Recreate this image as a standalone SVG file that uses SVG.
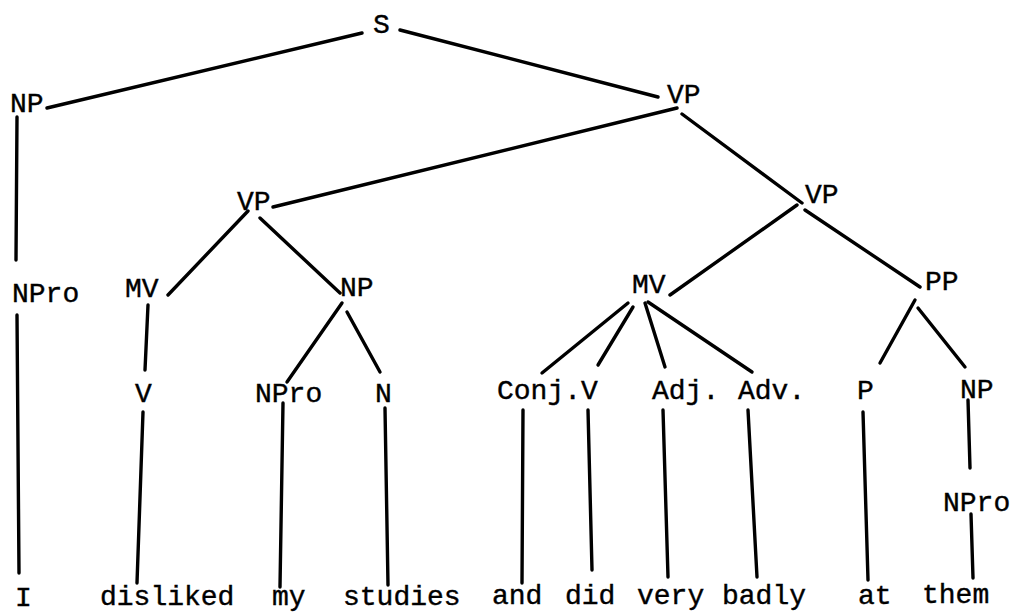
<svg xmlns="http://www.w3.org/2000/svg" width="1013" height="613" viewBox="0 0 1013 613">
<style>
text{font-family:"Liberation Mono","DejaVu Sans Mono",monospace;font-size:28px;fill:#000;stroke:#000;stroke-width:0.4}
.e line{stroke:#000;stroke-width:3.4;stroke-linecap:round}
</style>
<rect width="1013" height="613" fill="#fff"/>
<g class="e" id="connectors">
<line x1="362" y1="33" x2="47" y2="108"/>
<line x1="400" y1="30" x2="658" y2="97"/>
<line x1="677" y1="108" x2="273" y2="207"/>
<line x1="682" y1="114" x2="802" y2="203"/>
<line x1="17" y1="117" x2="16" y2="260"/>
<line x1="17" y1="315" x2="19" y2="573"/>
<line x1="248" y1="211" x2="168" y2="295"/>
<line x1="260" y1="218" x2="340" y2="293"/>
<line x1="148" y1="305" x2="145" y2="370"/>
<line x1="143" y1="412" x2="137" y2="583"/>
<line x1="342" y1="303" x2="287" y2="382"/>
<line x1="347" y1="312" x2="380" y2="372"/>
<line x1="283" y1="403" x2="280" y2="587"/>
<line x1="385" y1="408" x2="388" y2="585"/>
<line x1="797" y1="205" x2="670" y2="295"/>
<line x1="805" y1="210" x2="920" y2="287"/>
<line x1="628" y1="303" x2="542" y2="373"/>
<line x1="633" y1="307" x2="598" y2="365"/>
<line x1="645" y1="303" x2="665" y2="367"/>
<line x1="648" y1="302" x2="752" y2="372"/>
<line x1="915" y1="300" x2="880" y2="363"/>
<line x1="918" y1="308" x2="965" y2="367"/>
<line x1="523" y1="410" x2="522" y2="583"/>
<line x1="588" y1="410" x2="592" y2="570"/>
<line x1="663" y1="410" x2="668" y2="577"/>
<line x1="748" y1="410" x2="757" y2="577"/>
<line x1="863" y1="412" x2="868" y2="580"/>
<line x1="968" y1="400" x2="970" y2="468"/>
<line x1="971" y1="514" x2="973" y2="578"/>
</g>
<g id="n-S"><text x="373" y="33">S</text></g>
<g id="n-NP1"><text x="10" y="112">NP</text></g>
<g id="n-VP1"><text x="667" y="103">VP</text></g>
<g id="n-VP2"><text x="237" y="210">VP</text></g>
<g id="n-VP3"><text x="805" y="203">VP</text></g>
<g id="n-NPro1"><text x="12" y="302">NPro</text></g>
<g id="n-MV1"><text x="125" y="297">MV</text></g>
<g id="n-NP2"><text x="340" y="296">NP</text></g>
<g id="n-V1"><text x="135" y="402">V</text></g>
<g id="n-NPro2"><text x="255" y="402">NPro</text></g>
<g id="n-N"><text x="375" y="402">N</text></g>
<g id="n-MV2"><text x="632" y="293">MV</text></g>
<g id="n-PP"><text x="925" y="290">PP</text></g>
<g id="n-ConjV"><text x="497" y="399">Conj.V</text></g>
<g id="n-Adj"><text x="652" y="399">Adj.</text></g>
<g id="n-Adv"><text x="738" y="399">Adv.</text></g>
<g id="n-P"><text x="857" y="399">P</text></g>
<g id="n-NP3"><text x="960" y="398">NP</text></g>
<g id="n-NPro3"><text x="943" y="511">NPro</text></g>
<g id="w-I"><text x="15" y="606">I</text></g>
<g id="w-disliked"><text x="100" y="605">disliked</text></g>
<g id="w-my"><text x="272" y="605">my</text></g>
<g id="w-studies"><text x="343" y="605">studies</text></g>
<g id="w-and"><text x="492" y="604">and</text></g>
<g id="w-did"><text x="565" y="604">did</text></g>
<g id="w-very"><text x="637" y="604">very</text></g>
<g id="w-badly"><text x="722" y="604">badly</text></g>
<g id="w-at"><text x="858" y="604">at</text></g>
<g id="w-them"><text x="922" y="603">them</text></g>
</svg>
